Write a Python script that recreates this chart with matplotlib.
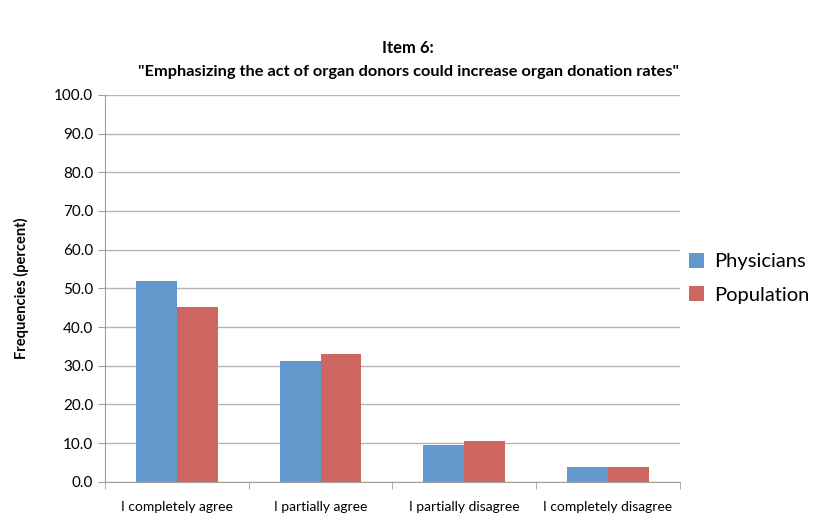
import numpy as np
import matplotlib
matplotlib.use("Agg")
import matplotlib.pyplot as plt

plt.rcParams['font.family'] = ['Lato', 'DejaVu Sans']

categories = ["I completely agree", "I partially agree", "I partially disagree", "I completely disagree"]
physicians = [52.0, 31.3, 9.4, 3.8]
population = [45.1, 33.0, 10.6, 3.8]

fig = plt.figure(figsize=(8.2, 5.3), dpi=100)
ax = fig.add_axes([0.128, 0.091, 0.701, 0.730])

x = np.arange(len(categories))
w = 0.285
ax.bar(x - w/2, physicians, w, color="#6398cd", label="Physicians")
ax.bar(x + w/2, population, w, color="#cd6560", label="Population")

ax.set_xlim(-0.5, len(categories) - 0.5)
ax.set_ylim(0, 100)
ax.set_yticks(np.arange(0, 101, 10))
ax.set_yticklabels([f"{v:.1f}" for v in np.arange(0, 101, 10)], fontsize=11)
ax.set_xticks(x)
ax.set_xticklabels(categories, fontsize=10)
ax.set_xticks(np.arange(-0.5, len(categories)), minor=True)
ax.tick_params(axis="x", which="major", length=0, pad=14)
ax.tick_params(axis="x", which="minor", length=5, color="#a0a0a0", direction="out")
ax.tick_params(axis="y", length=5, color="#a0a0a0", direction="out")

ax.yaxis.grid(True, color="#b4b4b4", linewidth=1)
ax.set_axisbelow(True)
for s in ["top", "right"]:
    ax.spines[s].set_visible(False)
ax.spines["left"].set_color("#a0a0a0")
ax.spines["bottom"].set_color("#a0a0a0")

ax.set_ylabel("Frequencies (percent)", fontsize=10.5, fontweight="bold", labelpad=18)
fig.text(0.498, 0.91, "Item 6:", ha="center", va="center", fontsize=12, fontweight="bold")
fig.text(0.498, 0.865, '"Emphasizing the act of organ donors could increase organ donation rates"',
         ha="center", va="center", fontsize=11.8, fontweight="bold")

ax.legend(loc="center left", bbox_to_anchor=(0.985, 0.526), frameon=False, fontsize=14.5,
          handlelength=0.75, handleheight=0.75, handletextpad=0.5, labelspacing=0.8)

plt.savefig("out.png")
